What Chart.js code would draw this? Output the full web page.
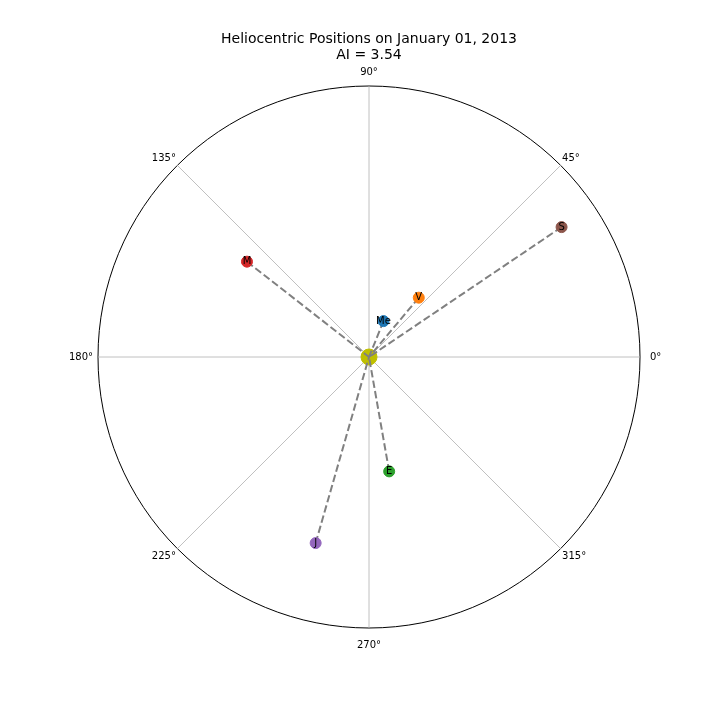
<!DOCTYPE html>
<html><head><meta charset="utf-8">
<script src="https://cdn.jsdelivr.net/npm/chart.js@4"></script>
<style>html,body{margin:0;padding:0;background:#fff}canvas{display:block}</style>
</head><body>
<canvas id="c" width="720" height="720" style="width:720px;height:720px"></canvas>
<script>
// ---- data ----
const planetNames = ['Me', 'V', 'E', 'M', 'J', 'S'];
const planetAnglesDeg = [68, 50, 280, 142, 254, 34];
const planetRadii = [1, 2, 3, 4, 5, 6];
const planetColors = ['#1f77b4', '#ff7f0e', '#2ca02c', '#d62728', '#9467bd', '#8c564b'];
const tickAnglesDeg = [0, 45, 90, 135, 180, 225, 270, 315];
const titleLines = ['Heliocentric Positions on January 01, 2013', 'AI = 3.54'];
const radialMax = 7;
const sunColor = '#bfbf00';

// ---- angular axis: one category per degree, clockwise from top ----
const N = 360;
const norm = d => ((d % 360) + 360) % 360;
const idxOf = deg => norm(90 - deg);            // category index for a math angle
const angleLabels = Array.from({length: N}, (_, i) => norm(90 - i) + '°');
const shownTickIdx = new Set(tickAnglesDeg.map(idxOf));
const empty = () => Array(N).fill(null);
const labelPad = i => {
  const a = norm(90 - i);
  if (a === 0) return 10;
  if (a === 180) return 5;
  if (a === 270) return 11;
  if (a === 90) return 8;
  return 2;
};

const datasets = [];
// sun
const sunData = empty(); sunData[0] = 0;
datasets.push({label: 'Sun', data: sunData, showLine: false, pointRadius: 8, pointHoverRadius: 8,
  pointBackgroundColor: sunColor, pointBorderColor: sunColor, pointBorderWidth: 1, order: 3});
// dashed lines from the sun
planetNames.forEach((n, k) => {
  const d = empty(); const i = idxOf(planetAnglesDeg[k]);
  d[i] = planetRadii[k]; d[(i + 1) % N] = 0;
  datasets.push({label: n + ' line', data: d, borderColor: '#808080', borderWidth: 2,
    borderDash: [7.4, 3.2], pointRadius: 0, pointHoverRadius: 0, fill: false, spanGaps: false, order: 2});
});
// planets
planetNames.forEach((n, k) => {
  const d = empty(); d[idxOf(planetAnglesDeg[k])] = planetRadii[k];
  datasets.push({label: n, data: d, showLine: false, pointRadius: 5.5, pointHoverRadius: 5.5,
    pointBackgroundColor: planetColors[k], pointBorderColor: planetColors[k], pointBorderWidth: 1,
    order: 1, planetName: n});
});

const textPlugin = {
  id: 'planetText',
  afterDatasetsDraw(chart) {
    const ctx = chart.ctx;
    ctx.save();
    ctx.font = '10px "DejaVu Sans"';
    ctx.fillStyle = '#000';
    ctx.textAlign = 'center';
    ctx.textBaseline = 'middle';
    chart.data.datasets.forEach((ds, di) => {
      if (!ds.planetName) return;
      const meta = chart.getDatasetMeta(di);
      meta.data.forEach((el, j) => {
        if (ds.data[j] === null || el.skip) return;
        ctx.fillText(ds.planetName, el.x, el.y);
      });
    });
    ctx.restore();
  }
};

new Chart(document.getElementById('c'), {
  type: 'radar',
  data: {labels: angleLabels, datasets},
  options: {
    responsive: false,
    animation: false,
    layout: {padding: {top: 0, bottom: 68, left: 18, right: 0}},
    plugins: {
      legend: {display: false},
      tooltip: {enabled: false},
      title: {display: true, text: titleLines, color: '#000',
        font: {family: 'DejaVu Sans', size: 14, weight: 'normal', lineHeight: 1.15},
        padding: {top: 31, bottom: 2}}
    },
    scales: {
      r: {
        min: 0, max: radialMax, startAngle: 0,
        ticks: {display: false, stepSize: radialMax},
        grid: {circular: true, lineWidth: 1,
          color: c => (c.tick && c.tick.value === radialMax) ? '#000' : 'rgba(0,0,0,0)'},
        angleLines: {display: true,
          color: c => shownTickIdx.has(c.index) ? '#b0b0b0' : 'rgba(0,0,0,0)',
          lineWidth: c => shownTickIdx.has(c.index) ? 0.8 : 0},
        pointLabels: {display: true, color: '#000', padding: c => labelPad(c.index),
          font: {family: 'DejaVu Sans', size: 10},
          callback: (l, i) => shownTickIdx.has(i) ? l : ''}
      }
    }
  },
  plugins: [textPlugin]
});
</script>
</body></html>
